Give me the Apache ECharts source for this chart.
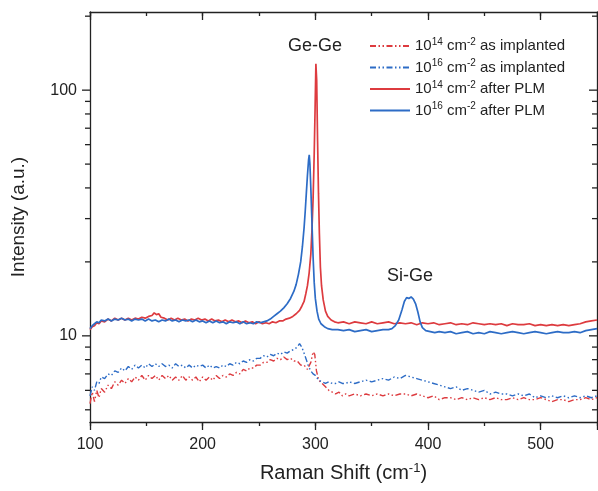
<!DOCTYPE html>
<html><head><meta charset="utf-8">
<script src="https://cdn.jsdelivr.net/npm/echarts@6/dist/echarts.min.js"></script>
<style>html,body{margin:0;padding:0;background:#fff}#c{width:598px;height:491px}</style>
</head><body><div id="c"></div>
<script>
const seriesNames = ['10^14 cm^-2 as implanted','10^16 cm^-2 as implanted','10^14 cm^-2 after PLM','10^16 cm^-2 after PLM'];
const legendRich = [
 '{n|10}{s|14}{n| cm}{s|-2}{n| as implanted}',
 '{n|10}{s|16}{n| cm}{s|-2}{n| as implanted}',
 '{n|10}{s|14}{n| cm}{s|-2}{n| after PLM}',
 '{n|10}{s|16}{n| cm}{s|-2}{n| after PLM}'
];
const xTicks = [100,200,300,400,500];
const yMajorTicks = [10,100];
const yMinorTicks = [5,6,7,8,9,20,30,40,50,60,70,80,90,200];
const annotations = ['Ge-Ge','Si-Ge'];

const red14Implanted = [[100,5.3],[102,5.9],[104,5.4],[106,6.0],[108,5.6],[110,6.1],[113,5.9],[116,6.3],[119,6.1],[122,6.5],[125,6.3],[128,6.6],[131,6.4],[134,6.7],[137,6.5],[140,6.8],[143,6.6],[146,6.9],[149,6.6],[152,6.9],[155,6.7],[158,6.9],[161,6.6],[164,6.9],[167,6.7],[170,6.9],[173,6.6],[176,6.8],[179,6.6],[182,6.9],[185,6.6],[188,6.8],[191,6.6],[194,6.8],[197,6.5],[200,6.8],[203,6.6],[206,6.8],[209,6.6],[212,6.9],[215,6.7],[218,6.9],[221,6.8],[224,7.0],[227,6.9],[230,7.1],[233,7.0],[236,7.3],[239,7.2],[242,7.4],[245,7.4],[248,7.6],[251,7.6],[254,7.8],[257,7.8],[260,8.0],[263,7.9],[266,8.1],[269,8.0],[272,8.2],[275,8.0],[278,8.1],[281,7.9],[284,7.9],[287,7.6],[290,7.6],[293,7.3],[296,7.8],[298,8.6],[299.5,8.4],[301,7.2],[303,6.6],[306,6.4],[309,6.2],[312,6.0],[315,5.9],[318,5.8],[321,5.9],[324,5.7],[327,5.8],[330,5.7],[335,5.8],[340,5.7],[345,5.8],[350,5.7],[355,5.8],[360,5.7],[365,5.8],[370,5.7],[375,5.8],[380,5.8],[385,5.7],[390,5.8],[395,5.7],[400,5.6],[405,5.7],[410,5.5],[415,5.6],[420,5.6],[425,5.5],[430,5.6],[435,5.5],[440,5.6],[445,5.5],[450,5.6],[455,5.5],[460,5.6],[465,5.5],[470,5.5],[475,5.6],[480,5.5],[485,5.6],[490,5.5],[495,5.5],[500,5.6],[505,5.5],[510,5.4],[515,5.5],[520,5.5],[525,5.4],[530,5.5],[535,5.5],[540,5.6],[545,5.5],[550,5.6]];

const blue16Implanted = [[100,5.7],[102,6.2],[104,6.0],[106,6.5],[108,6.4],[110,6.8],[113,6.7],[116,7.0],[119,6.9],[122,7.2],[125,7.1],[128,7.4],[131,7.2],[134,7.5],[137,7.3],[140,7.6],[143,7.4],[146,7.6],[149,7.4],[152,7.7],[155,7.5],[158,7.7],[161,7.5],[164,7.7],[167,7.5],[170,7.6],[173,7.4],[176,7.7],[179,7.5],[182,7.6],[185,7.4],[188,7.6],[191,7.4],[194,7.6],[197,7.5],[200,7.6],[203,7.4],[206,7.6],[209,7.4],[212,7.5],[215,7.4],[218,7.6],[221,7.5],[224,7.7],[227,7.6],[230,7.8],[233,7.7],[236,7.9],[239,7.8],[242,8.0],[245,7.9],[248,8.1],[251,8.1],[254,8.3],[257,8.2],[260,8.4],[263,8.3],[266,8.5],[269,8.4],[272,8.6],[275,8.5],[278,8.7],[281,8.8],[284,9.0],[286,9.3],[288,9.0],[290,8.5],[292,8.0],[294,7.5],[296,7.2],[298,7.0],[300,6.9],[303,6.6],[306,6.5],[309,6.4],[312,6.5],[315,6.4],[318,6.4],[321,6.5],[324,6.4],[327,6.4],[330,6.5],[335,6.4],[340,6.5],[345,6.6],[350,6.5],[355,6.6],[360,6.7],[365,6.6],[370,6.8],[375,6.7],[380,6.9],[385,6.8],[390,6.7],[395,6.6],[400,6.5],[405,6.4],[410,6.3],[415,6.2],[420,6.1],[425,6.2],[430,6.0],[435,6.1],[440,6.0],[445,5.9],[450,6.0],[455,5.8],[460,5.9],[465,5.8],[470,5.8],[475,5.7],[480,5.8],[485,5.7],[490,5.8],[495,5.6],[500,5.7],[505,5.6],[510,5.7],[515,5.6],[520,5.7],[525,5.6],[530,5.7],[535,5.6],[540,5.7],[545,5.6],[550,5.7]];

const red14PLM = [[100,10.6],[102,10.9],[104,11.0],[106,11.3],[108,11.2],[110,11.5],[113,11.4],[116,11.7],[119,11.5],[122,11.8],[125,11.6],[128,11.8],[131,11.6],[134,11.8],[137,11.6],[140,11.8],[143,11.7],[146,11.9],[149,11.8],[152,12.0],[155,12.1],[157,12.4],[159,12.2],[161,12.3],[163,11.9],[166,11.8],[169,11.6],[172,11.8],[175,11.6],[178,11.8],[181,11.6],[184,11.7],[187,11.5],[190,11.7],[193,11.6],[196,11.8],[199,11.6],[202,11.7],[205,11.5],[208,11.7],[211,11.5],[214,11.6],[217,11.4],[220,11.6],[223,11.4],[226,11.6],[229,11.4],[232,11.5],[235,11.3],[238,11.5],[241,11.3],[244,11.4],[247,11.2],[250,11.4],[253,11.2],[256,11.3],[259,11.2],[262,11.4],[265,11.3],[268,11.5],[271,11.5],[274,11.7],[277,11.8],[280,12.0],[283,12.3],[286,12.7],[288,13.2],[290,13.8],[291.5,14.8],[293,16.0],[294.5,18.0],[296,21.5],[297,27],[298,36],[299,55],[299.8,85],[300.5,128],[301.2,110],[302,62],[302.8,38],[303.6,26],[304.5,19],[305.5,16],[307,14],[309,12.6],[311,12.0],[314,11.6],[317,11.4],[320,11.3],[325,11.4],[330,11.2],[335,11.4],[340,11.3],[345,11.2],[350,11.4],[355,11.2],[360,11.3],[365,11.4],[370,11.2],[375,11.3],[380,11.2],[385,11.3],[390,11.1],[395,11.3],[400,11.2],[405,11.3],[410,11.1],[415,11.2],[420,11.3],[425,11.1],[430,11.2],[435,11.1],[440,11.3],[445,11.2],[450,11.1],[455,11.2],[460,11.1],[465,11.2],[470,11.0],[475,11.2],[480,11.1],[485,11.1],[490,11.2],[495,11.0],[500,11.1],[505,11.0],[510,11.1],[515,11.0],[520,11.1],[525,11.0],[530,11.1],[535,11.2],[540,11.4],[545,11.5],[550,11.6]];

const blue16PLM = [[100,10.7],[102,11.0],[104,11.2],[106,11.4],[108,11.3],[110,11.6],[113,11.5],[116,11.7],[119,11.5],[122,11.7],[125,11.6],[128,11.8],[131,11.6],[134,11.7],[137,11.5],[140,11.7],[143,11.6],[146,11.7],[149,11.5],[152,11.7],[155,11.5],[158,11.6],[161,11.4],[164,11.6],[167,11.5],[170,11.7],[173,11.5],[176,11.6],[179,11.4],[182,11.6],[185,11.5],[188,11.6],[191,11.4],[194,11.6],[197,11.4],[200,11.5],[203,11.3],[206,11.5],[209,11.3],[212,11.5],[215,11.3],[218,11.4],[221,11.2],[224,11.4],[227,11.3],[230,11.4],[233,11.2],[236,11.4],[239,11.2],[242,11.3],[245,11.2],[248,11.4],[251,11.3],[254,11.4],[257,11.5],[260,11.7],[263,12.0],[266,12.3],[269,12.6],[272,13.0],[275,13.5],[278,14.2],[281,15.2],[283,16.2],[285,17.8],[287,20],[288.5,23],[290,27.5],[291,32],[292,38],[293,45],[294,52],[294.6,54.5],[295.2,50],[296,40],[297,29],[298,21],[299,16.5],[300,14.2],[301.5,12.6],[303,11.7],[305,11.2],[308,10.9],[311,10.7],[315,10.6],[320,10.6],[325,10.5],[330,10.6],[335,10.4],[340,10.5],[345,10.6],[350,10.4],[355,10.5],[360,10.6],[365,10.6],[368,10.7],[371,11.0],[374,11.6],[377,12.8],[379,13.8],[381,14.3],[383,14.2],[385,14.4],[387,14.1],[389,13.5],[391,12.5],[393,11.4],[395,10.8],[398,10.5],[402,10.4],[406,10.3],[410,10.4],[415,10.3],[420,10.4],[425,10.2],[430,10.3],[435,10.4],[440,10.2],[445,10.3],[450,10.2],[455,10.4],[460,10.3],[465,10.2],[470,10.3],[475,10.4],[480,10.3],[485,10.2],[490,10.3],[495,10.4],[500,10.3],[505,10.2],[510,10.3],[515,10.4],[520,10.3],[525,10.3],[530,10.4],[535,10.3],[540,10.5],[545,10.6],[550,10.7]];

const RED = '#dd3b3f', BLUE = '#2d6cc6', INK = '#222';
const chart = echarts.init(document.getElementById('c'), null, {renderer:'canvas'});
const FONT = 'Liberation Sans, Arial, sans-serif';
const dashDot = [6,2.5,1.5,2.5,1.5,2.5];
const yTickData = yMajorTicks.map(v=>[100,v,1]).concat(yMinorTicks.map(v=>[100,v,0]));

const baseX = {type:'value', min:100, max:550, gridIndex:0, splitLine:{show:false}};
chart.setOption({
  animation:false,
  textStyle:{fontFamily:FONT},
  grid:{left:90, right:1, top:12, bottom:69, containLabel:false, outerBoundsMode:'none'},
  legend:{
    orient:'vertical', left:364, top:32, itemWidth:40, itemHeight:12, itemGap:5,
    data:seriesNames,
    itemStyle:{opacity:0},
    formatter:(name)=>legendRich[seriesNames.indexOf(name)],
    textStyle:{color:INK, fontFamily:FONT, rich:{
      n:{fontSize:15, color:INK, fontFamily:FONT, lineHeight:18},
      s:{fontSize:10, color:INK, fontFamily:FONT, padding:[0,0,8,0]}
    }}
  },
  xAxis:[
    Object.assign({}, baseX, {position:'bottom', interval:100,
      axisLine:{show:true, onZero:false, lineStyle:{color:INK, width:1.3}},
      axisTick:{show:true, inside:false, length:8, lineStyle:{color:INK, width:1.3}},
      axisLabel:{show:true, fontSize:16, color:INK, margin:15, fontFamily:FONT,
        formatter:(v)=> xTicks.indexOf(Math.round(v))>=0 ? String(Math.round(v)) : ''},
      name:'Raman Shift (cm{s|-1})', nameLocation:'middle', nameGap:40,
      nameTextStyle:{fontSize:20, color:INK, fontFamily:FONT, rich:{s:{fontSize:13, color:INK, padding:[0,0,9,0]}}}
    }),
    Object.assign({}, baseX, {position:'bottom', interval:50,
      axisLine:{show:false, onZero:false},
      axisTick:{show:true, inside:false, length:4, lineStyle:{color:INK, width:1.3}},
      axisLabel:{show:false}}),
    Object.assign({}, baseX, {position:'top', interval:50,
      axisLine:{show:true, onZero:false, lineStyle:{color:INK, width:1.3}},
      axisTick:{show:true, inside:true, length:4, lineStyle:{color:INK, width:1.3}},
      axisLabel:{show:false}}),
    Object.assign({}, baseX, {position:'top', interval:100,
      axisLine:{show:false, onZero:false},
      axisTick:{show:true, inside:true, length:8, lineStyle:{color:INK, width:1.3}},
      axisLabel:{show:false}})
  ],
  yAxis:[
    {type:'log', logBase:10, min:4.46, max:208, position:'left',
     splitLine:{show:false},
     axisLine:{show:true, onZero:false, lineStyle:{color:INK, width:1.3}},
     axisTick:{show:false},
     axisLabel:{show:true, fontSize:16, color:INK, margin:13, fontFamily:FONT,
       formatter:(v)=>{ const r = Math.round(v); return yMajorTicks.some(t=>Math.abs(t-v)<1e-6*t) ? String(r) : ''; }},
     name:'Intensity (a.u.)', nameLocation:'middle', nameGap:62,
     nameTextStyle:{fontSize:19, color:INK, fontFamily:FONT}
    },
    {type:'log', logBase:10, min:4.46, max:208, position:'right',
     splitLine:{show:false},
     axisLine:{show:true, onZero:false, lineStyle:{color:INK, width:1.3}},
     axisTick:{show:false}, axisLabel:{show:false}}
  ],
  graphic:[
    {type:'text', left:288, top:37, style:{text:annotations[0], fontSize:18, fill:INK, fontFamily:FONT}},
    {type:'text', left:387, top:267, style:{text:annotations[1], fontSize:18, fill:INK, fontFamily:FONT}}
  ],
  series:[
    {name:seriesNames[0], type:'line', data:red14Implanted, showSymbol:false, symbol:'none', xAxisIndex:0, yAxisIndex:0,
     lineStyle:{color:RED, width:1.4, type:dashDot}, itemStyle:{color:RED}, z:2},
    {name:seriesNames[1], type:'line', data:blue16Implanted, showSymbol:false, symbol:'none', xAxisIndex:0, yAxisIndex:0,
     lineStyle:{color:BLUE, width:1.4, type:dashDot}, itemStyle:{color:BLUE}, z:2},
    {name:seriesNames[2], type:'line', data:red14PLM, showSymbol:false, symbol:'none', xAxisIndex:0, yAxisIndex:0,
     lineStyle:{color:RED, width:1.7}, itemStyle:{color:RED}, z:3},
    {name:seriesNames[3], type:'line', data:blue16PLM, showSymbol:false, symbol:'none', xAxisIndex:0, yAxisIndex:0,
     lineStyle:{color:BLUE, width:1.7}, itemStyle:{color:BLUE}, z:3},
    {name:'yticks', type:'custom', data:yTickData, xAxisIndex:0, yAxisIndex:0, clip:false, silent:true,
     encode:{x:0, y:1},
     renderItem:(params, api)=>{
       const p = api.coord([api.value(0), api.value(1)]);
       const cs = params.coordSys;
       const L = api.value(2) ? 8 : 5;
       const st = {stroke:INK, lineWidth:1.3};
       return {type:'group', children:[
         {type:'line', shape:{x1:cs.x-L, y1:p[1], x2:cs.x, y2:p[1]}, style:st},
         {type:'line', shape:{x1:cs.x+cs.width-L, y1:p[1], x2:cs.x+cs.width, y2:p[1]}, style:st}
       ]};
     }}
  ]
});
</script></body></html>
